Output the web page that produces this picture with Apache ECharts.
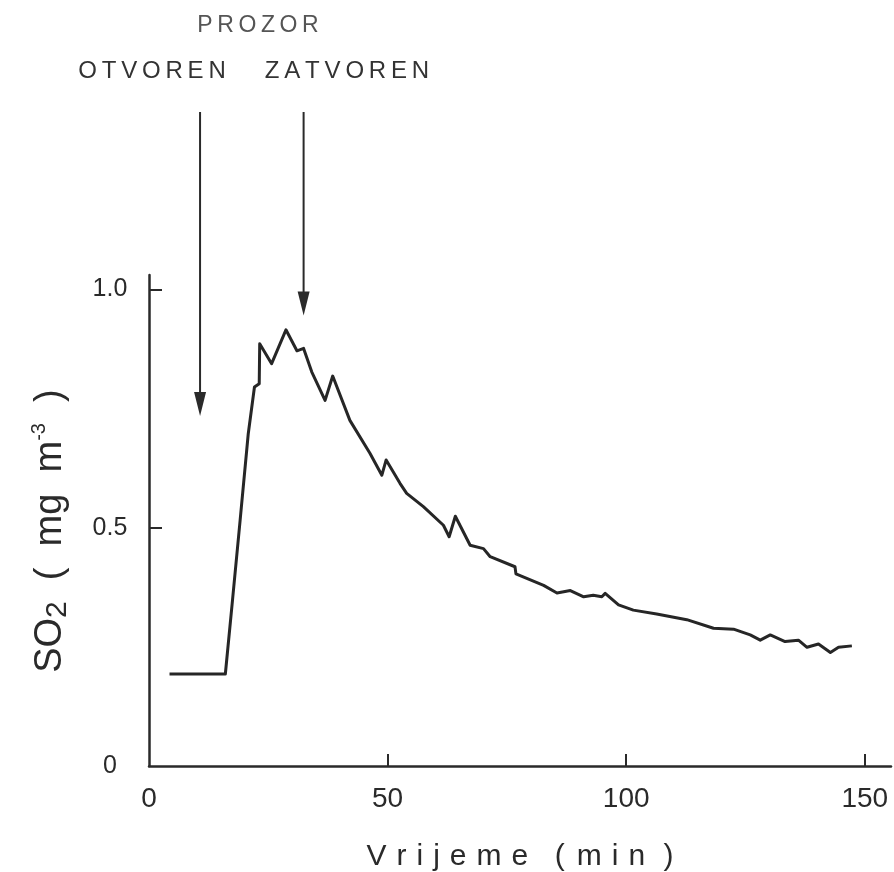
<!DOCTYPE html>
<html>
<head>
<meta charset="utf-8">
<script src="https://cdn.jsdelivr.net/npm/echarts@6/dist/echarts.min.js"></script>
<style>
html,body{margin:0;padding:0;background:#fff;}
#chart{width:894px;height:872px;}
</style>
</head>
<body>
<div id="chart"></div>
<script>
// ---- data ----
const timeMin = [4.3, 16.0, 17.5, 19.1, 20.8, 22.1, 23.1, 23.2, 25.7, 28.7, 31.0, 32.4, 34.1, 36.9, 38.5, 42.1, 46.3, 48.8, 49.7, 52.6, 54.0, 57.5, 61.7, 62.9, 64.2, 67.3, 70.1, 71.5, 76.7, 76.9, 82.7, 85.5, 88.3, 91.1, 93.1, 94.9, 95.6, 98.4, 101.5, 106.4, 112.7, 118.3, 122.5, 126.0, 128.1, 130.2, 133.3, 136.1, 137.9, 140.3, 142.8, 144.5, 147.3];
const so2 = [0.193, 0.193, 0.348, 0.516, 0.697, 0.795, 0.802, 0.886, 0.844, 0.915, 0.871, 0.876, 0.827, 0.767, 0.818, 0.725, 0.656, 0.610, 0.642, 0.593, 0.572, 0.544, 0.505, 0.481, 0.524, 0.463, 0.456, 0.439, 0.418, 0.403, 0.379, 0.363, 0.368, 0.355, 0.358, 0.355, 0.362, 0.338, 0.327, 0.319, 0.307, 0.289, 0.287, 0.275, 0.264, 0.275, 0.261, 0.264, 0.249, 0.256, 0.238, 0.249, 0.252];
const xTickLabels = [0, 50, 100, 150];
const yTickLabels = [0, 0.5, 1.0];
const arrowTimes = [10.7, 32.4];
const arrowTipValues = [0.734, 0.945];
const topLabel = 'PROZOR';
const arrowLabels = ['OTVOREN', 'ZATVOREN'];
const xTitleWords = ['Vrijeme', '(', 'min', ')'];

const FONT = "'Liberation Sans', Arial, sans-serif";
const INK = '#2a2a2a';
const spaced = (s, sep) => s.split('').join(sep);
const TS = '\u2009';   // thin space
const S3 = '\u2004';   // three-per-em space

const chart = echarts.init(document.getElementById('chart'), null, {renderer: 'canvas'});
const seriesData = timeMin.map((t, i) => [t, so2[i]]);

const xTitle = spaced(xTitleWords[0], S3) + '  ' + S3 + xTitleWords[1] + TS + TS + spaced(xTitleWords[2], S3) + ' ' + S3 + xTitleWords[3];

const option = {
  backgroundColor: '#ffffff',
  animation: false,
  grid: {left: 149, right: 3, top: 275, bottom: 106, containLabel: false, outerBoundsMode: 'none'},
  xAxis: {
    type: 'value', min: 0, max: 155.5,
    name: xTitle,
    nameLocation: 'middle', nameGap: 76,
    nameTextStyle: {fontFamily: FONT, fontSize: 30, color: INK},
    axisLine: {show: true, onZero: false, lineStyle: {color: INK, width: 2.5}},
    axisTick: {show: true, inside: true, length: 12, customValues: [50, 100, 150], lineStyle: {color: INK, width: 2}},
    axisLabel: {show: true, customValues: xTickLabels, margin: 19, fontFamily: FONT, fontSize: 28, color: INK},
    splitLine: {show: false}
  },
  yAxis: {
    type: 'value', min: 0, max: 1.03,
    name: '{t|SO}{s|2}{t|  (  mg  m}{p|-3}{t|  )  }',
    nameLocation: 'middle', nameRotate: 90, nameGap: 76,
    nameTextStyle: {
      fontFamily: FONT, color: INK,
      rich: {
        t: {fontFamily: FONT, fontSize: 38, color: INK, lineHeight: 44, verticalAlign: 'middle'},
        s: {fontFamily: FONT, fontSize: 30, color: INK, lineHeight: 44, verticalAlign: 'bottom'},
        p: {fontFamily: FONT, fontSize: 20, color: INK, lineHeight: 44, verticalAlign: 'top'}
      }
    },
    axisLine: {show: true, onZero: false, lineStyle: {color: INK, width: 2.5}},
    axisTick: {show: true, inside: true, length: 13, customValues: [0.5, 1.0], lineStyle: {color: INK, width: 2}},
    axisLabel: {
      show: true, customValues: yTickLabels, margin: 39, align: 'center',
      fontFamily: FONT, fontSize: 25, color: INK,
      formatter: v => (v === 0 ? '0' : v.toFixed(1))
    },
    splitLine: {show: false}
  },
  series: [{
    type: 'line',
    data: seriesData,
    showSymbol: false,
    smooth: false,
    lineStyle: {color: '#262626', width: 3, join: 'round'},
    clip: false
  }]
};
chart.setOption(option);

// annotations: arrows positioned through the axes' scales
const arrowTopPx = 112;
const graphics = [];
arrowTimes.forEach((t, i) => {
  const p = chart.convertToPixel({gridIndex: 0}, [t, arrowTipValues[i]]);
  const x = p[0], tip = p[1];
  graphics.push({
    type: 'line', silent: true,
    shape: {x1: x, y1: arrowTopPx, x2: x, y2: tip - 18},
    style: {stroke: INK, lineWidth: 2}
  });
  graphics.push({
    type: 'polygon', silent: true,
    shape: {points: [[x - 6, tip - 24], [x + 6, tip - 24], [x, tip]]},
    style: {fill: INK}
  });
});
graphics.push({
  type: 'text', silent: true, x: 258, y: 26,
  style: {text: spaced(topLabel, TS), fontFamily: FONT, fontSize: 23, fill: '#555', align: 'center', verticalAlign: 'middle'}
});
graphics.push({
  type: 'text', silent: true, x: 152, y: 71,
  style: {text: spaced(arrowLabels[0], TS), fontFamily: FONT, fontSize: 24, fill: '#333', align: 'center', verticalAlign: 'middle'}
});
graphics.push({
  type: 'text', silent: true, x: 347, y: 71,
  style: {text: spaced(arrowLabels[1], TS), fontFamily: FONT, fontSize: 24, fill: '#333', align: 'center', verticalAlign: 'middle'}
});
chart.setOption({graphic: graphics});
</script>
</body>
</html>
